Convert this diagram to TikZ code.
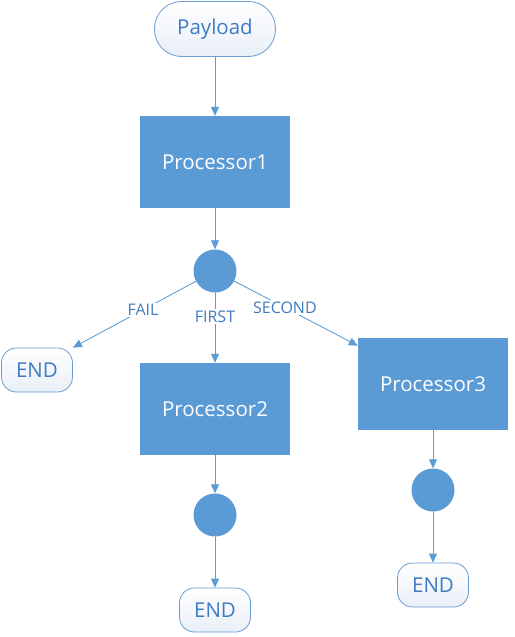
\documentclass[tikz,border=0pt]{standalone}
\usepackage{fontspec}
\setmainfont{Open Sans}
\usetikzlibrary{arrows,arrows.meta}
\definecolor{boxblue}{HTML}{5B9BD5}
\definecolor{lineblue}{HTML}{5B9BD5}
\definecolor{textblue}{HTML}{3F7BC1}
\definecolor{termline}{HTML}{6A9CD2}
\definecolor{termfill}{HTML}{E9EFF8}

\begin{document}
\begin{tikzpicture}[x=1pt,y=-1pt,cap=round]
% Styles
\tikzstyle{process}=[rectangle,fill=boxblue,text=white,minimum width=150pt,minimum height=92pt,font=\fontsize{20.5}{24}\selectfont]
\tikzstyle{terminal}=[rectangle,draw=termline,line width=0.8pt,top color=white,bottom color=termfill,text=textblue,font=\fontsize{20.5}{24}\selectfont]
\tikzstyle{decision}=[circle,fill=boxblue,minimum size=43pt,inner sep=0pt]
\tikzstyle{arrow}=[-{Triangle[length=9pt,width=8pt]},draw=lineblue,fill=lineblue,line width=0.8pt]
\tikzstyle{case}=[fill=white,text=textblue,font=\fontsize{16}{19}\selectfont,inner sep=1.5pt]

\useasboundingbox (0,0) rectangle (514,637);

% draw the nodes
\node[terminal,rounded corners=27pt,minimum width=121pt,minimum height=55pt] (pay) at (215,29) {Payload};
\node[process] (p1) at (215,162) {Processor1};
\node[process] (p2) at (215,409) {Processor2};
\node[process] (p3) at (433,384) {Processor3};

\foreach \n/\x/\y in {c1/215/271, c2/215/515, c3/433/490} {
\node[decision] (\n) at (\x,\y) {};
}

\foreach \n/\x/\y in {enda/37/370, endb/215/610, endc/433/585} {
\node[terminal,rounded corners=15pt,minimum width=71pt,minimum height=44pt] (\n) at (\x,\y) {END};
}

% connect them
\foreach \a/\b in {pay/p1, p1/c1, p2/c2, c2/endb, p3/c3, c3/endc} {
\draw[arrow] (\a) -- (\b);
}
\draw[arrow] (c1) -- (enda.north east) node[case,pos=0.43] {FAIL};
\draw[arrow] (c1) -- (p2) node[case,pos=0.34] {FIRST};
\draw[arrow] (c1) -- (p3.153) node[case,pos=0.41] {SECOND};

\end{tikzpicture}
\end{document}
